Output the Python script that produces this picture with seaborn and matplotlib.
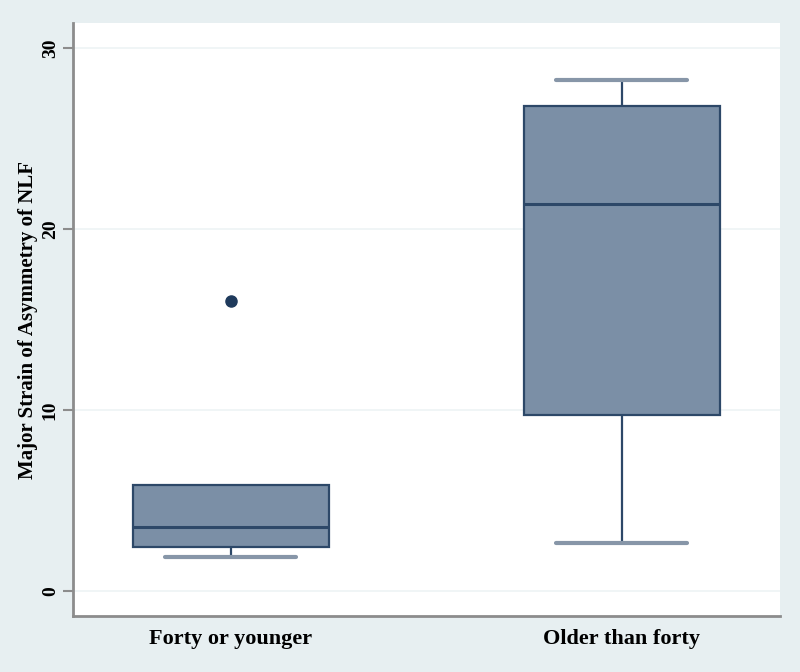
import seaborn as sns
import matplotlib.pyplot as plt
import pandas as pd

# values (min, q1, median, q3, max / outlier)
young = [1.88, 2.43, 3.53, 5.85, 16.0]
older = [2.65, 9.7, 21.4, 26.8, 28.24]
groups = ["Forty or younger", "Older than forty"]

df = pd.DataFrame({
    "group": [groups[0]] * len(young) + [groups[1]] * len(older),
    "strain": young + older,
})

sns.set_style("white")
plt.rcParams['font.family'] = ['Liberation Serif', 'DejaVu Serif']
plt.rcParams['text.color'] = 'black'
plt.rcParams['axes.labelcolor'] = 'black'
plt.rcParams['xtick.color'] = 'black'
plt.rcParams['ytick.color'] = 'black'

bg = "#e7eff1"
edge = "#2d4868"
fill = "#7b8fa6"
cap = "#8796a8"

fig = plt.figure(figsize=(8, 6.72), dpi=100, facecolor=bg)
ax = fig.add_axes([0.091, 0.083, 0.884, 0.883])
ax.set_facecolor("white")

sns.boxplot(data=df, x="group", y="strain", width=0.5, ax=ax,
            color=fill, linecolor=edge, linewidth=1.6,
            boxprops=dict(facecolor=fill, edgecolor=edge),
            medianprops=dict(color=edge, linewidth=2.2),
            whiskerprops=dict(color=edge, linewidth=1.6),
            capprops=dict(color=cap, linewidth=3),
            capwidths=0.335,
            flierprops=dict(marker="o", markerfacecolor="#1f3a5c",
                            markeredgecolor="#1f3a5c", markersize=8))

# hide caps of zero-length whiskers (the upper one of the first box)
for c in ax.containers:
    for w, cp in zip(c.whiskers, c.caps):
        yd = w.get_ydata()
        if abs(yd[0] - yd[1]) < 1e-9:
            cp.set_visible(False)

ax.set_xlim(-0.404, 1.404)
ax.set_ylim(-1.4, 31.4)
ax.set_yticks([0, 10, 20, 30])
ax.grid(axis="y", color="#eef3f5", linewidth=1.2)
ax.set_axisbelow(True)

for s in ["top", "right"]:
    ax.spines[s].set_visible(False)
for s in ["left", "bottom"]:
    ax.spines[s].set_color("#8c8c8c")
    ax.spines[s].set_linewidth(2)

ax.tick_params(axis="y", left=True, length=7, width=1.5, color="#8c8c8c",
               labelcolor="black", labelsize=14, pad=3)
ax.tick_params(axis="x", bottom=False, labelsize=16, pad=6,
               labelcolor="black")
for t in ax.get_yticklabels():
    t.set_rotation(90)
    t.set_va("center")
    t.set_fontweight("bold")
for t in ax.get_xticklabels():
    t.set_fontweight("bold")

ax.set_xlabel("")
ax.set_ylabel("Major Strain of Asymmetry of NLF", fontsize=15,
              fontweight="bold", labelpad=3, color="black")

fig.savefig("out.png", dpi=100, facecolor=bg)
